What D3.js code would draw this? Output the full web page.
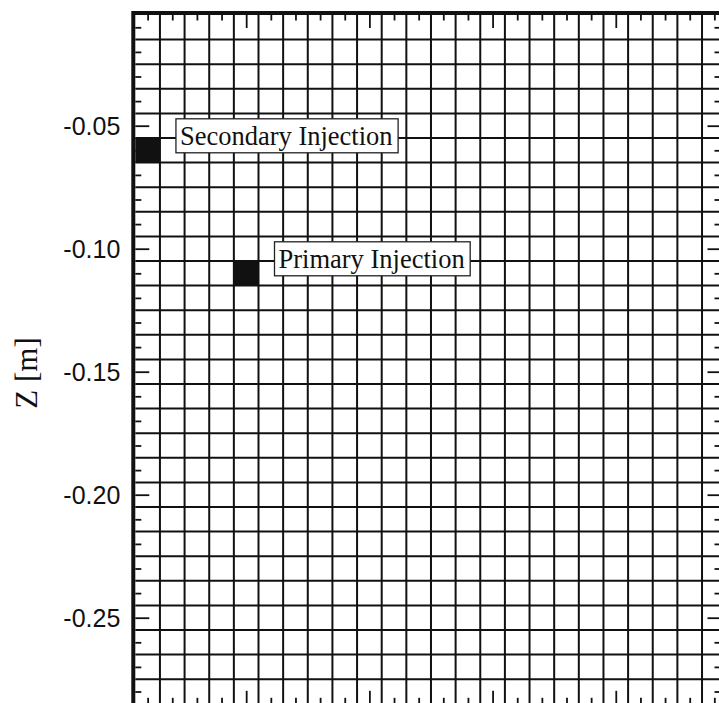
<!DOCTYPE html>
<html>
<head>
<meta charset="utf-8">
<script src="https://cdn.jsdelivr.net/npm/d3@7/dist/d3.min.js"></script>
<style>
  html, body { margin: 0; padding: 0; background: #fff; }
  svg { display: block; }
</style>
</head>
<body>
<svg id="chart" width="719" height="703"></svg>
<script>
// Computational domain shown (metres)
const xExtent = [-0.045, 0.1925];
const zExtent = [-0.285, -0.005];

// Mesh cell edges (uniform 0.01 m cells)
const xCellEdges = [-0.035, -0.025, -0.015, -0.005, 0.005, 0.015, 0.025, 0.035, 0.045, 0.055,
                    0.065, 0.075, 0.085, 0.095, 0.105, 0.115, 0.125, 0.135, 0.145, 0.155,
                    0.165, 0.175, 0.185];
const zCellEdges = [-0.015, -0.025, -0.035, -0.045, -0.055, -0.065, -0.075, -0.085, -0.095, -0.105,
                    -0.115, -0.125, -0.135, -0.145, -0.155, -0.165, -0.175, -0.185, -0.195, -0.205,
                    -0.215, -0.225, -0.235, -0.245, -0.255, -0.265, -0.275];

// Axis ticks
const zMajorTicks = [-0.05, -0.10, -0.15, -0.20, -0.25];
const zMinorTicks = [-0.01, -0.02, -0.03, -0.04, -0.06, -0.07, -0.08, -0.09, -0.11, -0.12,
                     -0.13, -0.14, -0.16, -0.17, -0.18, -0.19, -0.21, -0.22, -0.23, -0.24,
                     -0.26, -0.27, -0.28];
const xMajorTicks = [0.00, 0.05, 0.10, 0.15];
const xMinorTicks = [-0.04, -0.03, -0.02, -0.01, 0.01, 0.02, 0.03, 0.04, 0.06, 0.07,
                     0.08, 0.09, 0.11, 0.12, 0.13, 0.14, 0.16, 0.17, 0.18, 0.19];

// Injection cells (cell centres) and their labels
const injectionNames = ["Secondary Injection", "Primary Injection"];
const injectionX = [-0.04, 0.00];
const injectionZ = [-0.06, -0.11];
const cellSize = 0.01;

const zTitle = "Z [m]";

const svg = d3.select("#chart");
const ink = "#111";

const x = d3.scaleLinear().domain(xExtent).range([135.3, 720.5]);
const z = d3.scaleLinear().domain(zExtent).range([703.8, 15.0]);

const x0 = x(xExtent[0]), x1 = x(xExtent[1]);
const z0 = z(zExtent[1]), z1 = z(zExtent[0]);

// Mesh lines
const mesh = svg.append("g").attr("stroke", ink).attr("stroke-width", 2);
mesh.selectAll("line.v").data(xCellEdges).join("line")
  .attr("class", "v")
  .attr("x1", d => x(d)).attr("x2", d => x(d))
  .attr("y1", z0).attr("y2", z1);
mesh.selectAll("line.h").data(zCellEdges).join("line")
  .attr("class", "h")
  .attr("x1", x0).attr("x2", x1)
  .attr("y1", d => z(d)).attr("y2", d => z(d));

// Injection cells
const injections = injectionNames.map((name, i) => ({ name, x: injectionX[i], z: injectionZ[i] }));
svg.append("g").selectAll("rect").data(injections).join("rect")
  .attr("x", d => x(d.x - cellSize / 2))
  .attr("y", d => z(d.z + cellSize / 2))
  .attr("width", d => x(d.x + cellSize / 2) - x(d.x - cellSize / 2))
  .attr("height", d => z(d.z - cellSize / 2) - z(d.z + cellSize / 2))
  .attr("fill", ink);

// Axes: ticks point inward on all four sides
function styleAxis(g) {
  g.select(".domain").remove();
  g.selectAll(".tick line").attr("stroke", ink).attr("stroke-width", 1.8);
  g.selectAll(".tick text")
    .attr("fill", ink)
    .style("font-family", "'Liberation Sans', Arial, Helvetica, sans-serif")
    .style("font-size", "25px");
}
const noLabel = () => "";

svg.append("g").attr("transform", `translate(${x0},0)`)
  .call(d3.axisLeft(z).tickValues(zMajorTicks).tickSize(-14).tickPadding(15)
    .tickFormat(d => d.toFixed(2)))
  .call(styleAxis)
  .call(g => g.selectAll(".tick text").attr("dy", "0.34em"));
svg.append("g").attr("transform", `translate(${x0},0)`)
  .call(d3.axisLeft(z).tickValues(zMinorTicks).tickSize(-6).tickFormat(noLabel))
  .call(styleAxis);

svg.append("g").attr("transform", `translate(${x1},0)`)
  .call(d3.axisRight(z).tickValues(zMajorTicks).tickSize(-13).tickFormat(noLabel))
  .call(styleAxis);
svg.append("g").attr("transform", `translate(${x1},0)`)
  .call(d3.axisRight(z).tickValues(zMinorTicks).tickSize(-6).tickFormat(noLabel))
  .call(styleAxis);

svg.append("g").attr("transform", `translate(0,${z0})`)
  .call(d3.axisTop(x).tickValues(xMajorTicks).tickSize(-13).tickFormat(noLabel))
  .call(styleAxis);
svg.append("g").attr("transform", `translate(0,${z0})`)
  .call(d3.axisTop(x).tickValues(xMinorTicks).tickSize(-5.5).tickFormat(noLabel))
  .call(styleAxis);

svg.append("g").attr("transform", `translate(0,${z1})`)
  .call(d3.axisBottom(x).tickValues(xMajorTicks).tickSize(-13).tickFormat(noLabel))
  .call(styleAxis);
svg.append("g").attr("transform", `translate(0,${z1})`)
  .call(d3.axisBottom(x).tickValues(xMinorTicks).tickSize(-6).tickFormat(noLabel))
  .call(styleAxis);

// Heavy frame, drawn just outside the domain edges
svg.append("rect")
  .attr("x", x0 - 2).attr("y", z0 - 2)
  .attr("width", x1 - x0 + 4).attr("height", z1 - z0 + 4)
  .attr("fill", "none").attr("stroke", ink).attr("stroke-width", 4);

// Z axis title
svg.append("text")
  .attr("transform", "translate(37,373) rotate(-90)")
  .attr("text-anchor", "middle")
  .attr("fill", ink)
  .style("font-family", "'Liberation Serif', 'Times New Roman', Times, serif")
  .style("font-size", "31px")
  .text(zTitle);

// Boxed labels beside each injection cell
const labels = svg.append("g").selectAll("g").data(injections).join("g")
  .attr("transform", d => `translate(${x(d.x + cellSize / 2) + 16},${z(d.z) - 14.5})`);
const labelText = labels.append("text")
  .attr("x", 4).attr("y", 9.5)
  .attr("fill", ink)
  .style("font-family", "'Liberation Serif', 'Times New Roman', Times, serif")
  .style("font-size", "26.5px")
  .text(d => d.name);
labels.insert("rect", "text")
  .attr("x", 0).attr("y", -17)
  .attr("width", function(d, i) { return labelText.nodes()[i].getComputedTextLength() + 9.5; })
  .attr("height", 34)
  .attr("fill", "#fff")
  .attr("stroke", "#222")
  .attr("stroke-width", 1.3);
</script>
</body>
</html>
